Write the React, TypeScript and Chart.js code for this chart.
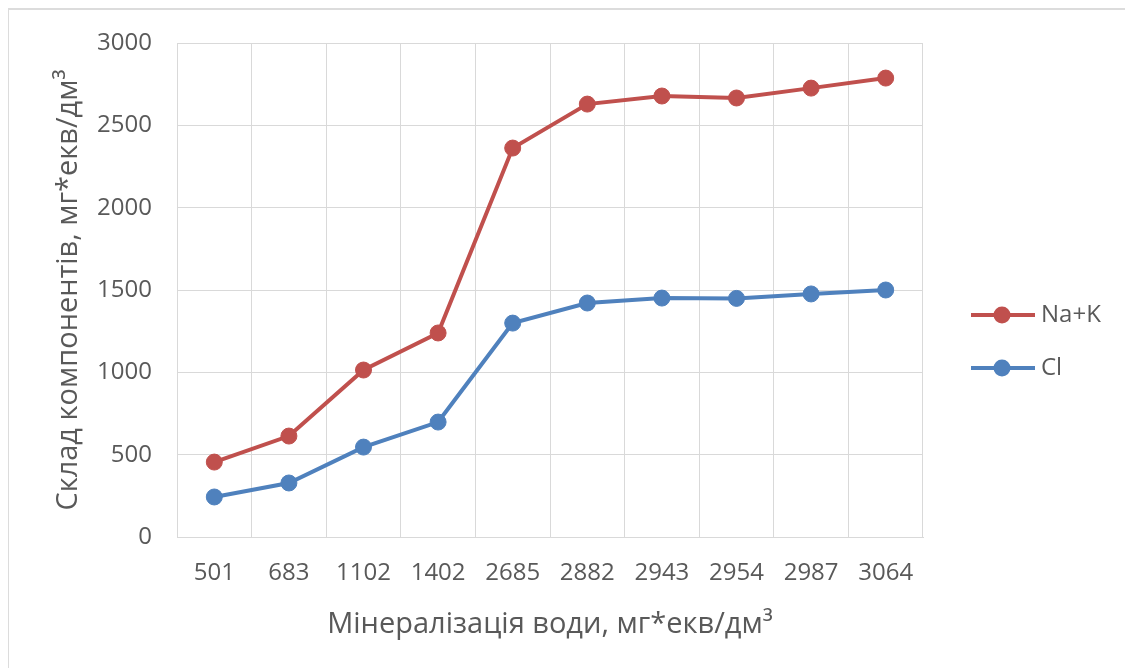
import React, { useEffect, useRef } from "react";
import { Chart, registerables } from "chart.js";

Chart.register(...registerables);

const categories = ["501", "683", "1102", "1402", "2685", "2882", "2943", "2954", "2987", "3064"];
const naK = [455, 613, 1014, 1239, 2362, 2629, 2678, 2666, 2726, 2787];
const cl = [243, 328, 546, 698, 1299, 1421, 1451, 1449, 1476, 1500];
const seriesLabels = ["Na+K", "Cl"];
const yTicks = [0, 500, 1000, 1500, 2000, 2500, 3000];
const xTitle = "Мінералізація води, мг*екв/дм³";
const yTitle = "Склад компонентів, мг*екв/дм³";

const RED = "#C0504D";
const BLUE = "#4F81BD";
const TEXT = "#595959";
const GRID = "#D9D9D9";
const FONT = "'Open Sans', sans-serif";

const legendPlugin = {
  id: "sideLegend",
  afterDraw(chart: any) {
    const ctx = chart.ctx;
    const x0 = 962;
    const ys = [305, 358];
    ctx.save();
    chart.data.datasets.forEach((ds: any, i: number) => {
      const y = ys[i];
      ctx.strokeStyle = ds.borderColor;
      ctx.lineWidth = 4;
      ctx.beginPath();
      ctx.moveTo(x0, y);
      ctx.lineTo(x0 + 64, y);
      ctx.stroke();
      ctx.fillStyle = ds.borderColor;
      ctx.beginPath();
      ctx.arc(x0 + 31, y, 8.5, 0, Math.PI * 2);
      ctx.fill();
      ctx.fillStyle = TEXT;
      ctx.font = `24px ${FONT}`;
      ctx.textBaseline = "middle";
      ctx.textAlign = "left";
      ctx.fillText(ds.label, x0 + 70, y);
    });
    ctx.restore();
  },
};

export default function App() {
  const ref = useRef<HTMLCanvasElement>(null);
  useEffect(() => {
    if (!ref.current) return;
    const chart = new Chart(ref.current, {
      type: "line",
      data: {
        labels: categories,
        datasets: [
          {
            label: seriesLabels[0],
            data: naK,
            borderColor: RED,
            backgroundColor: RED,
            borderWidth: 4,
            pointRadius: 8,
            pointBorderWidth: 1,
            pointBackgroundColor: RED,
            pointBorderColor: RED,
          },
          {
            label: seriesLabels[1],
            data: cl,
            borderColor: BLUE,
            backgroundColor: BLUE,
            borderWidth: 4,
            pointRadius: 8,
            pointBorderWidth: 1,
            pointBackgroundColor: BLUE,
            pointBorderColor: BLUE,
          },
        ],
      },
      options: {
        animation: false,
        responsive: false,
        devicePixelRatio: 1,
        layout: { padding: { top: 33, right: 207, bottom: 0, left: 0 } },
        plugins: {
          legend: { display: false },
          tooltip: { enabled: false },
        },
        scales: {
          x: {
            offset: true,
            grid: { offset: true, color: GRID, lineWidth: 1, drawTicks: false },
            border: { color: GRID, width: 1 },
            ticks: { color: TEXT, font: { family: FONT, size: 24 }, padding: 22, maxRotation: 0, autoSkip: false },
            title: {
              display: true,
              text: xTitle,
              color: TEXT,
              font: { family: FONT, size: 29 },
              padding: { top: 0, bottom: 28 },
            },
            afterFit(scale: any) {
              scale.height = 133;
              scale.paddingLeft = 0;
              scale.paddingRight = 0;
            },
          },
          y: {
            min: 0,
            max: 3000,
            afterBuildTicks(scale: any) {
              scale.ticks = yTicks.map((v) => ({ value: v }));
            },
            grid: { color: GRID, lineWidth: 1, drawTicks: false },
            border: { color: GRID, width: 1 },
            ticks: {
              color: TEXT,
              font: { family: FONT, size: 24 },
              padding: 25,
              callback: (v: any) => String(v),
            },
            title: {
              display: true,
              text: yTitle,
              color: TEXT,
              font: { family: FONT, size: 29 },
              padding: { top: 42, bottom: 0 },
            },
            afterFit(scale: any) {
              scale.width = 168;
              scale.paddingTop = 0;
              scale.paddingBottom = 0;
            },
          },
        },
      },
      plugins: [legendPlugin],
    });
    return () => chart.destroy();
  }, []);
  return (
    <div
      style={{
        position: "relative",
        marginLeft: -1,
        width: 1125,
        height: 680,
        border: "2px solid #DCDCDC",
        boxSizing: "border-box",
        background: "#fff",
      }}
    >
      <canvas ref={ref} width={1121} height={660} style={{ display: "block", width: 1121, height: 660 }} />
    </div>
  );
}
